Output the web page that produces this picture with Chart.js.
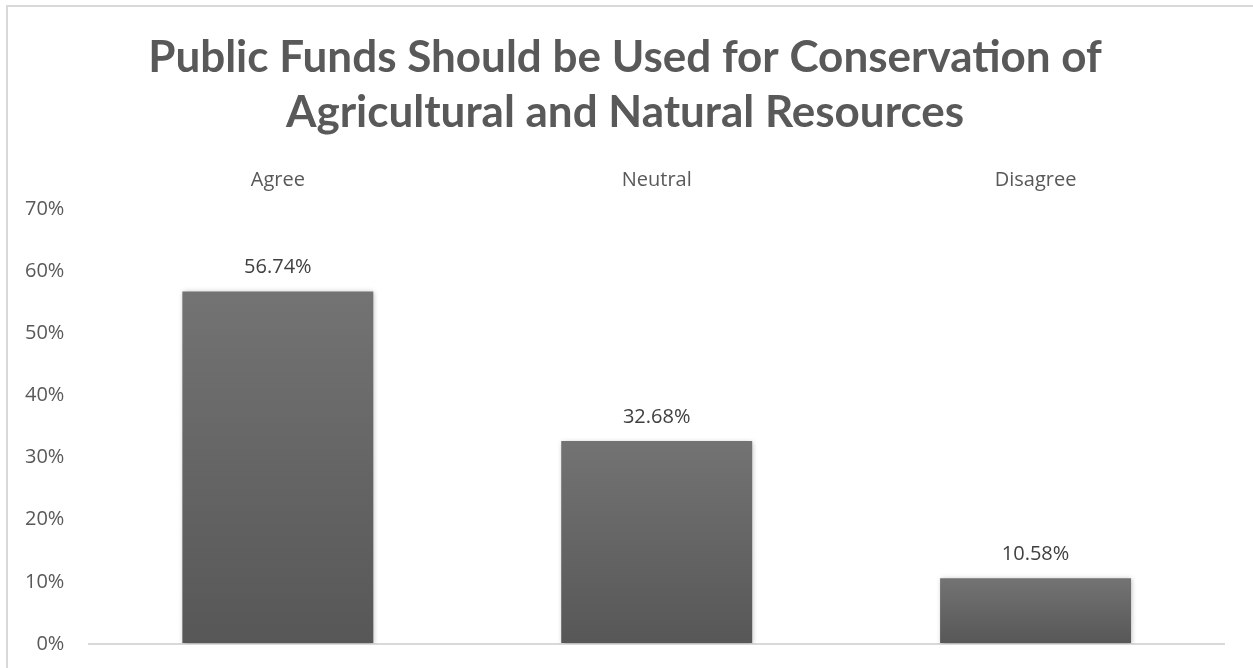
<!DOCTYPE html>
<html>
<head>
<meta charset="utf-8">
<title>Public Funds for Conservation</title>
<script src="https://cdn.jsdelivr.net/npm/chart.js@4/dist/chart.umd.min.js"></script>
<style>
  html, body { margin: 0; padding: 0; background: #fff; }
  #wrap { position: relative; width: 1253px; height: 668px; }
  #frame {
    position: absolute; left: 6px; top: 5px; right: 0; bottom: 0;
    border-left: 2px solid #d9d9d9; border-top: 2px solid #d9d9d9;
    pointer-events: none;
  }
</style>
</head>
<body>
<div id="wrap">
  <canvas id="myChart" width="1253" height="668"></canvas>
  <div id="frame"></div>
</div>
<script>
let titleLines = ['Public Funds Should be Used for Conservation of', 'Agricultural and Natural Resources'];
let labels = ['Agree', 'Neutral', 'Disagree'];
let values = [56.74, 32.68, 10.58];
let yTicks = [0, 10, 20, 30, 40, 50, 60, 70];

let textGray = '#595959';

// each bar gets its own light-to-dark vertical gradient
function barGradient(ctx) {
    if (ctx.type !== 'data') return '#666';
    let chart = ctx.chart;
    if (!chart.chartArea) return '#666';
    let y = chart.scales.y;
    let top = y.getPixelForValue(ctx.raw);
    let bottom = y.getPixelForValue(0);
    let g = chart.ctx.createLinearGradient(0, top, 0, bottom);
    g.addColorStop(0, '#737373');
    g.addColorStop(1, '#575757');
    return g;
}

// soft drop shadow behind the bars
let barShadow = {
    id: 'barShadow',
    beforeDatasetsDraw(chart) {
        let c = chart.ctx;
        c.save();
        c.shadowColor = 'rgba(0,0,0,0.28)';
        c.shadowBlur = 5;
        c.shadowOffsetX = 1;
        c.shadowOffsetY = 1;
    },
    afterDatasetsDraw(chart) {
        chart.ctx.restore();
    }
};

// value labels above each bar
let valueLabels = {
    id: 'valueLabels',
    afterDatasetsDraw(chart) {
        let c = chart.ctx;
        let meta = chart.getDatasetMeta(0);
        c.save();
        c.font = '20px "Open Sans"';
        c.fillStyle = '#404040';
        c.textAlign = 'center';
        c.textBaseline = 'middle';
        meta.data.forEach((bar, i) => {
            c.fillText(values[i].toFixed(2) + '%', bar.x, bar.y - 24);
        });
        c.restore();
    }
};

let ctx = document.getElementById('myChart').getContext('2d');
let chart = new Chart(ctx, {
    type: 'bar',
    data: {
        labels: labels,
        datasets: [{
            data: values,
            backgroundColor: barGradient,
            borderWidth: 0,
            barPercentage: 0.504,
            categoryPercentage: 1
        }]
    },
    options: {
        responsive: false,
        animation: false,
        layout: {
            padding: { top: 6, left: 25, right: 28, bottom: 24 }
        },
        plugins: {
            legend: { display: false },
            tooltip: { enabled: false },
            title: {
                display: true,
                text: titleLines,
                color: textGray,
                font: { family: 'Lato', size: 44, weight: 'bold', lineHeight: 1.25 },
                padding: { top: 24, bottom: 19 }
            }
        },
        scales: {
            x: {
                position: 'top',
                grid: { display: false },
                border: { display: false },
                ticks: {
                    color: textGray,
                    font: { family: 'Open Sans', size: 20 },
                    padding: 9
                }
            },
            y: {
                min: 0,
                max: 70,
                afterBuildTicks(axis) {
                    axis.ticks = yTicks.map(v => ({ value: v }));
                },
                grid: {
                    // invisible tick marks keep the labels clear of the plot
                    drawTicks: true,
                    tickLength: 24,
                    tickColor: 'rgba(0,0,0,0)',
                    lineWidth: 2,
                    color: c => c.tick && c.tick.value === 0 ? '#d9d9d9' : 'rgba(0,0,0,0)'
                },
                border: { display: false },
                ticks: {
                    color: textGray,
                    font: { family: 'Open Sans', size: 20 },
                    padding: 0,
                    callback: v => v + '%'
                }
            }
        }
    },
    plugins: [barShadow, valueLabels]
});
</script>
</body>
</html>
